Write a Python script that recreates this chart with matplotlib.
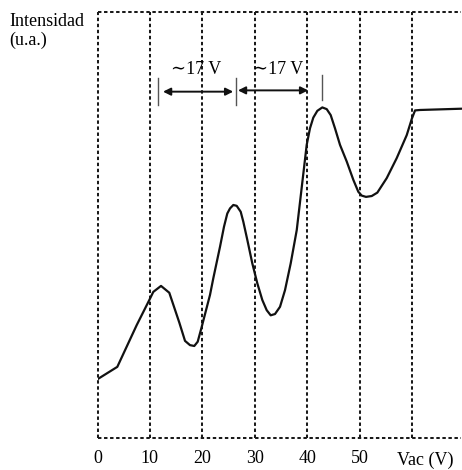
import matplotlib
matplotlib.use("Agg")
import matplotlib.pyplot as plt

# Franck-Hertz style curve: accelerating voltage vs collected intensity (a.u.)
voltage = [0.0, 3.78, 7.48, 9.89, 10.65, 12.12, 13.70, 14.60, 15.61, 16.70,
           17.65, 18.47, 19.12, 19.89, 21.47, 22.10, 23.38, 24.14, 24.77,
           25.29, 25.92, 26.56, 27.33, 27.82, 28.59, 29.54, 30.50, 31.45,
           32.29, 33.05, 33.87, 34.83, 35.78, 36.87, 38.02,
           39.92, 40.55, 41.18, 41.95, 42.90, 43.74, 44.50, 45.32,
           46.28, 47.56, 48.82, 49.77, 50.42, 51.24, 52.33, 53.40, 55.19,
           57.10, 59.01, 60.0, 60.6, 61.55, 69.5]
intensity = [13.8, 16.7, 26.5, 32.4, 34.3, 35.7, 34.1, 30.8, 27.1, 22.8,
             21.8, 21.6, 22.6, 26.1, 33.6, 37.5, 44.9, 49.6, 52.7,
             53.9, 54.7, 54.5, 53.1, 50.8, 46.5, 41.0, 36.3, 32.4,
             30.0, 28.8, 29.1, 30.8, 34.7, 41.0, 48.8,
             68.8, 72.7, 75.2, 76.8, 77.6, 77.2, 75.8, 72.7,
             68.8, 64.9, 60.6, 57.8, 56.9, 56.6, 56.8, 57.6, 61.0,
             65.7, 71.1, 75.0, 76.9, 77.0, 77.3]

grid_v = [0, 10, 20, 30, 40, 50, 60]
tick_labels = ["0", "10", "20", "30", "40", "50"]
peak_marks = [11.6, 26.4, 42.8]        # thin bars above the maxima
peak_bar_low = [78.2, 78.2, 79.3]
peak_bar_high = [84.5, 84.5, 85.2]
spacing_label = "\u223c17 V"

W, H = 462, 470
fig = plt.figure(figsize=(W / 100, H / 100), dpi=100)
ax = fig.add_axes([97.5 / W, 1 - 438 / H, (461.7 - 97.5) / W, (438 - 12) / H])
ax.set_xlim(0, 69.5)
ax.set_ylim(0, 100)
ax.axis("off")

dash = dict(color="#1a1a1a", lw=1.45, dashes=(1.7, 1.3), clip_on=False)
for v in grid_v:
    ax.plot([v, v], [0, 100], **dash)
ax.plot([0, 69.3], [100, 100], **dash)
ax.plot([0, 69.3], [0, 0], **dash)

ax.plot(voltage, intensity, color="#111111", lw=1.6,
        solid_joinstyle="round", solid_capstyle="round")

serif = ["Liberation Serif", "DejaVu Serif"]
fs = 13
for v, lab in zip(grid_v, tick_labels):
    ax.text(v, -4.9, lab, family=serif, fontsize=fs, ha="center", va="center")
ax.text(57.2, -5.3, "Vac (V)", family=serif, fontsize=fs, ha="left", va="center")

fig.text(9 / W, 1 - 21 / H, "Intensidad", family=serif, fontsize=fs, va="center")
fig.text(9 / W, 1 - 40 / H, "(u.a.)", family=serif, fontsize=fs, va="center")

for p, y0, y1 in zip(peak_marks, peak_bar_low, peak_bar_high):
    ax.plot([p, p], [y0, y1], color="#555555", lw=1.0)

arrow = dict(arrowstyle="<|-|>", color="#111111", lw=1.4, mutation_scale=11,
             shrinkA=0, shrinkB=0)
ax.annotate("", xy=(12.5, 81.3), xytext=(25.9, 81.3), arrowprops=arrow)
ax.annotate("", xy=(26.8, 81.6), xytext=(40.2, 81.6), arrowprops=arrow)
ax.text(18.9, 86.6, spacing_label, family=serif, fontsize=fs, ha="center", va="center")
ax.text(34.4, 86.6, spacing_label, family=serif, fontsize=fs, ha="center", va="center")

fig.savefig("out.png", dpi=100)
